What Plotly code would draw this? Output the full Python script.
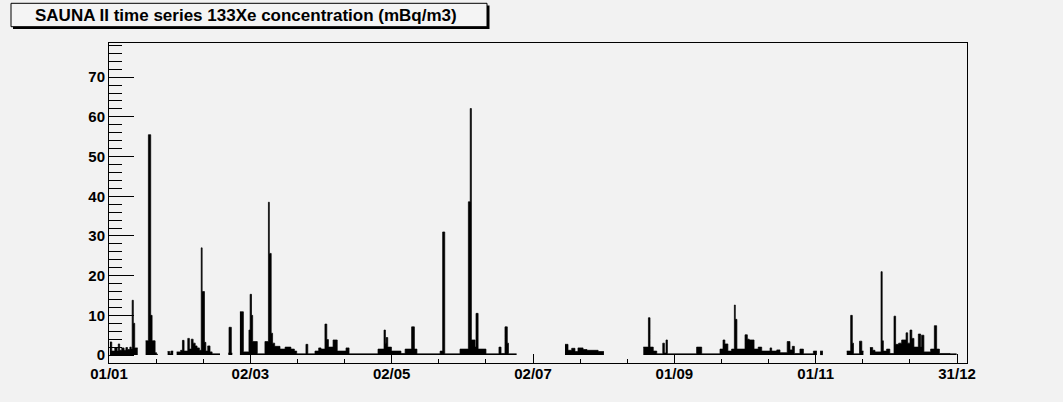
import plotly.graph_objects as go

# ---------------- data (day of year offset, concentration mBq/m3) ----------------
# each segment: edges (n+1 day boundaries) and values (n step heights)
seg_a_day = [0.4, 1.2, 2.5, 3.5, 4.0, 4.6, 5.5, 6.5, 7.3, 8.0, 9.0, 9.6, 10.0, 10.5, 11.1, 12.4]
seg_a_val = [3.3, 1.0, 1.8, 1.0, 2.8, 1.2, 1.8, 1.2, 1.9, 1.4, 2.0, 1.5, 13.8, 8.0, 1.8]

seg_b_day = [15.8, 17.0, 18.0, 18.6, 19.9, 20.5, 21.1]
seg_b_val = [3.6, 55.5, 10.0, 3.6, 0.6, 0.2]

seg_c_day = [25.3, 26.2, 26.7, 27.7]
seg_c_val = [0.9, 0.3, 1.0]

seg_d_day = [29.2, 30.9, 31.7, 32.4, 34.0, 34.7, 35.5, 36.3, 37.2, 38.0, 39.0, 39.8, 40.2,
             41.2, 41.8, 42.6, 43.6, 44.5, 47.9]
seg_d_val = [0.8, 1.2, 3.7, 1.0, 4.2, 1.5, 4.0, 3.0, 2.3, 1.8, 1.2, 27.0, 16.0,
             3.2, 1.0, 2.3, 0.8, 0.3]

seg_e_day = [51.5, 51.8, 52.8, 53.2]
seg_e_val = [0.5, 7.0, 0.5]

seg_f_day = [56.5, 58.0, 60.4, 60.9, 61.5, 62.0, 64.0, 67.3, 68.8, 69.2, 70.0, 70.6, 71.5,
             73.8, 76.0, 78.5, 80.0, 81.0, 85.0, 85.8, 88.9, 90.5, 91.5, 93.2, 94.0, 94.7,
             96.7, 98.5, 102.3, 103.6, 116.1, 118.7, 119.3, 119.6, 120.3, 121.9, 126.0,
             127.8, 130.6, 131.8, 132.9, 142.9, 144.0, 144.9, 151.5, 155.1, 155.9, 156.4,
             158.0, 158.4, 159.3, 162.7, 168.3, 169.2, 170.9, 171.9, 172.4, 175.9]
seg_f_val = [10.9, 0.8, 6.3, 15.3, 10.0, 3.4, 0.3, 3.4, 38.5, 25.6, 5.5, 3.0, 2.2,
             1.5, 2.0, 1.5, 1.0, 0.3, 2.7, 0.3, 1.0, 1.8, 1.5, 7.8, 3.9, 2.0,
             3.8, 1.0, 1.8, 0.3, 1.5, 6.3, 3.0, 4.4, 2.0, 1.0, 0.4,
             1.5, 7.1, 1.5, 0.3, 1.0, 31.0, 0.3, 1.5, 38.6, 62.1, 3.8,
             2.0, 10.5, 1.5, 0.3, 2.0, 0.4, 7.1, 3.0, 0.3]

seg_g_day = [196.8, 198.1, 199.7, 201.1, 202.4, 204.6, 206.3, 211.1, 213.6]
seg_g_val = [2.7, 1.2, 1.7, 0.9, 1.8, 1.4, 1.2, 0.9]

seg_h_day = [230.6, 232.8, 233.5, 234.9, 236.4, 239.0, 239.7, 240.4, 241.0, 253.6, 255.8,
             263.7, 265.0, 265.8, 267.1, 268.7, 269.9, 270.3, 271.0, 274.5, 275.5, 276.3,
             278.4, 280.2, 281.7, 285.3, 286.0, 288.2, 289.6, 292.7, 293.9, 294.9, 295.8,
             298.2, 299.7, 304.0, 305.5]
seg_h_val = [2.0, 9.4, 2.0, 1.0, 0.3, 3.0, 0.5, 3.8, 0.3, 2.0, 0.3,
             1.5, 3.8, 2.8, 1.0, 1.5, 12.6, 9.0, 1.5, 5.1, 4.0, 3.8,
             1.5, 2.0, 1.0, 1.8, 1.0, 1.3, 0.6, 3.4, 1.3, 2.2, 0.4,
             1.5, 0.3, 1.0]

seg_i_day = [306.9, 308.1]
seg_i_val = [1.0]

seg_j_day = [318.4, 320.1, 320.8, 321.3, 323.9, 324.9, 325.6]
seg_j_val = [1.0, 10.0, 3.0, 0.3, 3.5, 1.0]

seg_k_day = [328.4, 329.6, 330.6, 333.2, 333.7, 334.2, 335.6, 337.0, 338.8, 339.5, 340.8,
             342.1, 344.0, 344.7, 345.7, 346.5, 347.4, 349.3, 350.3, 350.7, 351.7, 354.6,
             356.2, 357.2, 358.4, 363.0, 365.8]
seg_k_val = [1.9, 1.2, 0.8, 21.0, 3.6, 1.0, 1.5, 0.4, 9.8, 2.7, 3.0,
             3.8, 5.6, 3.0, 6.3, 4.2, 2.0, 5.3, 2.0, 5.0, 0.8, 1.5,
             7.4, 1.5, 0.4, 0.3]

tick_days = [0, 61, 122, 183, 244, 305, 366]
tick_labels = ["01/01", "02/03", "02/05", "02/07", "01/09", "01/11", "31/12"]
y_ticks = [0, 10, 20, 30, 40, 50, 60, 70]

title_text = "SAUNA II time series 133Xe concentration (mBq/m3)"

segments = [(seg_a_day, seg_a_val), (seg_b_day, seg_b_val), (seg_c_day, seg_c_val),
            (seg_d_day, seg_d_val), (seg_e_day, seg_e_val), (seg_f_day, seg_f_val),
            (seg_g_day, seg_g_val), (seg_h_day, seg_h_val), (seg_i_day, seg_i_val),
            (seg_j_day, seg_j_val), (seg_k_day, seg_k_val)]

# ---------------- layout geometry ----------------
W, H = 1063, 402
L, R, T, B = 109, 96, 43, 39
PW, PH = W - L - R, H - T - B
BG = "#f2f2f2"

X_MAX = 370.3
Y_MIN, Y_MAX = -2.0, 78.6

fig = go.Figure()
for d, v in segments:
    fig.add_trace(go.Scatter(
        x=list(d), y=list(v) + [v[-1]], mode="lines",
        line=dict(color="black", width=0.7, shape="hv"),
        fill="tozeroy", fillcolor="black", hoverinfo="skip", showlegend=False))

minor_x = []
for k in range(len(tick_days) - 1):
    step = (tick_days[k + 1] - tick_days[k]) / 3.0
    minor_x += [tick_days[k] + step, tick_days[k] + 2 * step]

tickfont = dict(family="Liberation Sans, Arial, sans-serif", size=15, color="black", weight="bold")

fig.update_layout(
    width=W, height=H,
    margin=dict(l=L, r=R, t=T, b=B, pad=0),
    paper_bgcolor=BG, plot_bgcolor=BG,
    showlegend=False,
    xaxis=dict(range=[0, X_MAX], tickmode="array", tickvals=tick_days, ticktext=tick_labels,
               ticks="inside", ticklen=9, tickwidth=1, tickcolor="black",
               minor=dict(tickmode="array", tickvals=minor_x, ticks="inside", ticklen=4,
                          tickcolor="black", tickwidth=1, showgrid=False),
               showgrid=False, zeroline=False, showline=True, linecolor="black", linewidth=1,
               mirror=True, tickfont=tickfont, automargin=False, fixedrange=True,
               ticklabelstandoff=-3),
    yaxis=dict(range=[Y_MIN, Y_MAX], tickmode="array", tickvals=y_ticks,
               ticks="inside", ticklen=25, tickwidth=1, tickcolor="black",
               minor=dict(dtick=2, tick0=0, ticks="inside", ticklen=13,
                          tickcolor="black", tickwidth=1, showgrid=False),
               showgrid=False, zeroline=False, showline=True, linecolor="black", linewidth=1,
               mirror=True, tickfont=tickfont, automargin=False, fixedrange=True),
)

def px_x(px):
    return (px - L) / PW

def px_y(py):
    return (H - B - py) / PH

# title box with shadow
fig.add_shape(type="rect", xref="paper", yref="paper",
              x0=px_x(13), x1=px_x(489.5), y0=px_y(29), y1=px_y(5.5),
              fillcolor="black", line=dict(width=0), layer="above")
fig.add_shape(type="rect", xref="paper", yref="paper",
              x0=px_x(11), x1=px_x(487), y0=px_y(26.7), y1=px_y(3.3),
              fillcolor="#f4f4f4", line=dict(color="black", width=1), layer="above")
fig.add_annotation(text=title_text, xref="paper", yref="paper",
                   x=px_x(246), y=px_y(15), xanchor="center", yanchor="middle",
                   showarrow=False,
                   font=dict(family="Liberation Sans, Arial, sans-serif", size=17,
                             color="black", weight="bold"))

fig.write_html("out.html")
